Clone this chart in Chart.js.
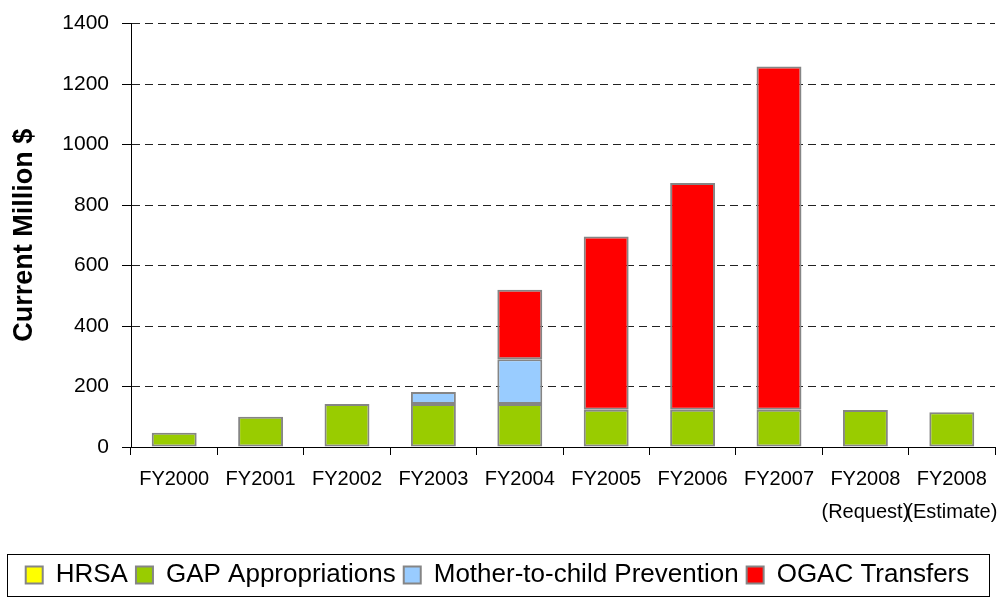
<!DOCTYPE html>
<html>
<head>
<meta charset="utf-8">
<script src="https://cdn.jsdelivr.net/npm/chart.js@4/dist/chart.umd.min.js"></script>
<style>
    html, body { margin: 0; padding: 0; background: #fff; }
    #wrap { width: 998px; height: 600px; }
</style>
</head>
<body>
<div id="wrap"><canvas id="fundChart"></canvas></div>
<script>
// Data (current million $)
const years = [
    'FY2000', 'FY2001', 'FY2002', 'FY2003', 'FY2004',
    'FY2005', 'FY2006', 'FY2007', ['FY2008', '(Request)'], ['FY2008', '(Estimate)']
];
const hrsa = [0, 0, 0, 0, 0, 0, 0, 0, 0, 0];
const gapAppropriations = [47, 100, 142, 142, 142, 123, 123, 123, 122, 115];
const motherToChild = [0, 0, 0, 40, 148, 0, 0, 0, 0, 0];
const ogacTransfers = [0, 0, 0, 0, 230, 573, 750, 1135, 0, 0];
const yTicks = [0, 200, 400, 600, 800, 1000, 1200, 1400];

const font = "'Liberation Sans', Arial, sans-serif";

// box round the legend like the original
const legendBox = {
    id: 'legendBox',
    afterDraw(chart) {
        const lg = chart.legend;
        const ctx = chart.ctx;
        ctx.save();
        ctx.strokeStyle = '#000';
        ctx.lineWidth = 1;
        ctx.strokeRect(7.5, lg.top + 0.5, chart.width - 16, lg.height - 2);
        ctx.restore();
    }
};

function series(label, data, color) {
    return {
        label: label,
        data: data,
        backgroundColor: color,
        borderColor: '#858585',
        borderWidth: 2,
        borderSkipped: false,
        barPercentage: 0.52,
        categoryPercentage: 1.0
    };
}

const ctx = document.getElementById('fundChart').getContext('2d');
const chart = new Chart(ctx, {
    type: 'bar',
    data: {
        labels: years,
        datasets: [
            series('HRSA', hrsa, '#FFFF00'),
            series('GAP Appropriations', gapAppropriations, '#99CC00'),
            series('Mother-to-child Prevention', motherToChild, '#99CCFF'),
            series('OGAC Transfers', ogacTransfers, '#FF0000')
        ]
    },
    options: {
        responsive: true,
        maintainAspectRatio: false,
        animation: false,
        layout: { padding: { top: 6, right: 3, left: 0, bottom: 2 } },
        plugins: {
            tooltip: { enabled: false },
            legend: {
                position: 'bottom',
                labels: {
                    color: '#000',
                    font: { family: font, size: 26 },
                    boxWidth: 17,
                    boxHeight: 17,
                    padding: 8
                }
            }
        },
        scales: {
            x: {
                stacked: true,
                offset: true,
                afterFit: s => {
                    s.height += 17;
                    s.paddingRight = 0;
                },
                grid: {
                    display: true,
                    offset: true,
                    drawOnChartArea: false,
                    color: '#000',
                    tickLength: 8
                },
                border: { color: '#000', width: 1 },
                ticks: {
                    color: '#000',
                    font: { family: font, size: 20, lineHeight: 1.65 },
                    maxRotation: 0,
                    autoSkip: false,
                    padding: 8
                }
            },
            y: {
                stacked: true,
                min: 0,
                max: 1400,
                afterBuildTicks: s => { s.ticks = yTicks.map(v => ({ value: v })); },
                afterFit: s => { s.width = 131; },
                grid: {
                    color: '#222',
                    tickColor: '#000',
                    tickLength: 9
                },
                border: { color: '#000', width: 1, dash: [8, 5] },
                ticks: {
                    color: '#000',
                    font: { family: font, size: 21, lineHeight: 1.0 },
                    padding: 13,
                    callback: v => String(v)
                },
                title: {
                    display: true,
                    text: 'Current Million $',
                    color: '#000',
                    font: { family: font, size: 27, weight: 'bold' },
                    padding: 8
                }
            }
        }
    },
    plugins: [legendBox]
});
</script>
</body>
</html>
